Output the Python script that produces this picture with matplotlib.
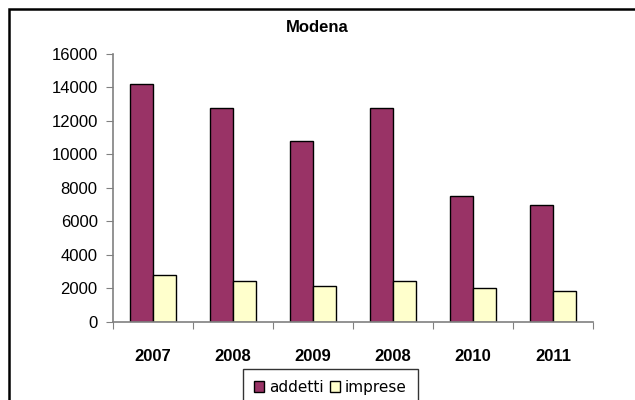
import numpy as np
import matplotlib
matplotlib.use('Agg')
import matplotlib.pyplot as plt
from matplotlib.patches import Rectangle

years = ['2007', '2008', '2009', '2008', '2010', '2011']
addetti = [14200, 12800, 10800, 12800, 7500, 6950]
imprese = [2800, 2430, 2130, 2430, 2030, 1850]

W, H = 635, 400
fig = plt.figure(figsize=(W/100, H/100), dpi=100)
ax = fig.add_axes([113/W, 1-321.7/H, (593-113)/W, (321.7-54)/H])

x = np.arange(len(years))
bw = 0.29
ax.bar(x - bw/2, addetti, bw, color='#993366', edgecolor='black', linewidth=1, label='addetti')
ax.bar(x + bw/2, imprese, bw, color='#FFFFCC', edgecolor='black', linewidth=1, label='imprese')

ax.set_xlim(-0.5, len(years) - 0.5)
ax.set_ylim(0, 16000)
ax.set_yticks(np.arange(0, 16001, 2000))
ax.set_xticks(np.arange(-0.5, len(years), 1))
ax.set_xticklabels([])
ax.set_xticks(x, minor=True)
ax.set_xticklabels(years, minor=True, fontfamily='Liberation Sans', fontweight='bold', fontsize=12)
ax.tick_params(axis='x', which='minor', length=0, pad=20)
ax.tick_params(axis='x', which='major', length=5, color='#808080', direction='out')
ax.tick_params(axis='y', length=5, color='#808080', direction='out', pad=6)
for lab in ax.get_yticklabels():
    lab.set_fontfamily('Liberation Sans')
    lab.set_fontsize(12)

for s in ['top', 'right']:
    ax.spines[s].set_visible(False)
for s in ['left', 'bottom']:
    ax.spines[s].set_color('#808080')
    ax.spines[s].set_linewidth(1.2)

fig.text(317/W, 1-27/H, 'Modena', ha='center', va='center',
         fontfamily='Liberation Sans', fontweight='bold', fontsize=12)

# outer chart border (cropped at right and bottom)
fig.patches.append(Rectangle((9/W, -0.1), 1.2, 1 - 9/H + 0.1, transform=fig.transFigure,
                             fill=False, edgecolor='black', linewidth=1.8))

leg = fig.legend(loc='upper left', bbox_to_anchor=(243/W, 1-369/H), ncol=2,
                 frameon=True, fancybox=False, edgecolor='black',
                 prop={'family': 'DejaVu Sans', 'size': 11},
                 handlelength=0.7, handleheight=0.7, handletextpad=0.3,
                 columnspacing=0.4, borderpad=0.7, borderaxespad=0)
leg.get_frame().set_linewidth(1)

fig.savefig('out.png', dpi=100)
